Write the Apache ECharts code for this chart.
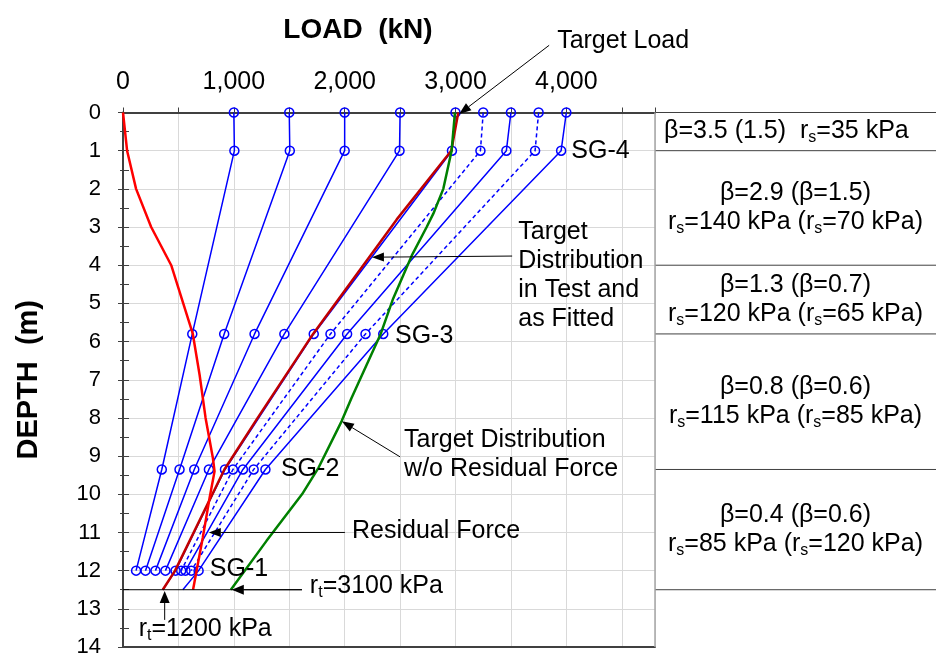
<!DOCTYPE html>
<html><head><meta charset="utf-8">
<script src="https://cdn.jsdelivr.net/npm/echarts@6/dist/echarts.min.js"></script>
<style>html,body{margin:0;padding:0;background:#fff}#c{width:936px;height:658px}</style>
</head><body><div id="c"></div>
<script>
// ---------------- DATA ----------------
const xTickLabels = [0, 1000, 2000, 3000, 4000];
const yTickLabels = [0,1,2,3,4,5,6,7,8,9,10,11,12,13,14];
const sgDepths = [0, 1, 5.8, 9.35, 12, 12.5];           // load-cell head, SG-4, SG-3, SG-2, SG-1, toe
const sgLoad1 = [1000, 1005, 625, 350, 118];
const sgLoad2 = [1500, 1505, 913, 510, 203];
const sgLoad3 = [2000, 2000, 1187, 643, 293];
const sgLoad4 = [2500, 2495, 1456, 775, 383];
const sgLoad5 = [3000, 2968, 1721, 920, 474, 359];
const sgLoad6 = [3250, 3225, 1872, 992, 525];          // dashed
const sgLoad7 = [3500, 3459, 2022, 1082, 564];
const sgLoad8 = [3750, 3718, 2188, 1179, 616];         // dashed
const sgLoad9 = [4000, 3953, 2348, 1285, 682, 540];
const fittedDepth = [0, 1, 2.8, 5.8, 8, 9.35, 12, 12.5];
const fittedLoad  = [3025, 2962, 2470, 1715, 1215, 915, 470, 359];
const residualDepth = [0, 1, 2, 3, 4, 5.8, 6.87, 8, 9.05, 9.4, 10.1, 11.13, 12.5];
const residualLoad  = [0, 37, 118, 254, 435, 630, 691, 745, 811, 826, 781, 720, 632];
const noResDepth = [0, 1, 2, 2.65, 3, 3.75, 4.87, 5.8, 7.48, 8.09, 9.3, 10.0, 11.22, 12.5];
const noResLoad  = [2995, 2965, 2890, 2800, 2740, 2605, 2438, 2325, 2062, 1972, 1765, 1615, 1295, 973];
const layerBounds = [0, 1, 4, 5.8, 9.35, 12.5];
const layerTexts = [
  'β=3.5 (1.5)  r{s|s}=35 kPa',
  'β=2.9 (β=1.5)\nr{s|s}=140 kPa (r{s|s}=70 kPa)',
  'β=1.3 (β=0.7)\nr{s|s}=120 kPa (r{s|s}=65 kPa)',
  'β=0.8 (β=0.6)\nr{s|s}=115 kPa (r{s|s}=85 kPa)',
  'β=0.4 (β=0.6)\nr{s|s}=85 kPa (r{s|s}=120 kPa)'
];
// --------------------------------------
const FONT = '"Liberation Sans", Arial, Helvetica, sans-serif';
const BLUE = '#0000ff';
const chart = echarts.init(document.getElementById('c'), null, {renderer: 'canvas'});

function sgSeries(arr, dashed) {
  return {
    type: 'line', xAxisIndex: 0, yAxisIndex: 0, z: 3,
    data: arr.map((v, i) => i < 5 ? {value: [v, sgDepths[i]]} : {value: [v, sgDepths[i]], symbol: 'none'}),
    symbol: 'circle', symbolSize: 9, showSymbol: true,
    itemStyle: {color: 'rgba(0,0,0,0)', borderColor: BLUE, borderWidth: 1.5},
    lineStyle: {color: BLUE, width: 1.5, type: dashed ? [4, 3] : 'solid'},
    emphasis: {disabled: true}, animation: false, silent: true
  };
}
function curve(xs, ds, color, w, z) {
  return {
    type: 'line', z: z, data: xs.map((v, i) => [v, ds[i]]), symbol: 'none',
    lineStyle: {color: color, width: w}, emphasis: {disabled: true}, animation: false, silent: true
  };
}

const option = {
  animation: false,
  grid: {left: 123, right: 281, top: 112.5, bottom: 8, containLabel: false},
  xAxis: [{
    type: 'value', position: 'top', min: 0, max: 4800, interval: 500,
    axisLine: {show: true, onZero: false, lineStyle: {color: '#404040', width: 2}},
    axisTick: {show: true, length: 5, lineStyle: {color: '#404040', width: 1}},
    axisLabel: {fontSize: 25, fontFamily: FONT, color: '#000', margin: 18,
      formatter: v => (xTickLabels.indexOf(v) >= 0 ? v.toLocaleString('en-US') : '')},
    splitLine: {show: true, lineStyle: {color: '#d9d9d9', width: 1}}
  }, {
    type: 'value', position: 'bottom', min: 0, max: 4800,
    axisLine: {show: true, onZero: false, lineStyle: {color: '#404040', width: 2}},
    axisTick: {show: false}, axisLabel: {show: false}, splitLine: {show: false}
  }],
  yAxis: [{
    type: 'value', inverse: true, min: 0, max: 14, interval: 1,
    name: 'DEPTH  (m)', nameLocation: 'middle', nameGap: 80, nameRotate: 90,
    nameTextStyle: {fontSize: 29, fontWeight: 'bold', fontFamily: FONT, color: '#000'},
    axisLine: {show: true, onZero: false, lineStyle: {color: '#404040', width: 2}},
    axisTick: {show: true, inside: true, length: 6, lineStyle: {color: '#404040'}},
    minorTick: {show: true, splitNumber: 2, length: 6, lineStyle: {color: '#404040'}},
    axisLabel: {fontSize: 22, fontFamily: FONT, color: '#000', margin: 22,
      formatter: v => (yTickLabels.indexOf(v) >= 0 ? String(v) : '')},
    splitLine: {show: true, lineStyle: {color: '#d9d9d9', width: 1}}
  }, {
    type: 'value', inverse: true, min: 0, max: 14, interval: 1, position: 'left',
    axisLine: {show: false}, axisTick: {show: true, inside: false, length: 5, lineStyle: {color: '#404040'}},
    minorTick: {show: true, splitNumber: 2, length: 3, lineStyle: {color: '#404040'}},
    axisLabel: {show: false}, splitLine: {show: false}
  }],
  series: [
    sgSeries(sgLoad1), sgSeries(sgLoad2), sgSeries(sgLoad3), sgSeries(sgLoad4), sgSeries(sgLoad5),
    sgSeries(sgLoad6, true), sgSeries(sgLoad7), sgSeries(sgLoad8, true), sgSeries(sgLoad9),
    curve(fittedLoad, fittedDepth, '#c00000', 2.5, 4),
    curve(residualLoad, residualDepth, '#ff0000', 2.5, 5),
    curve(noResLoad, noResDepth, '#008000', 2.5, 5)
  ]
};
chart.setOption(option);

// ------- annotations (positioned in data coordinates) -------
const P = (x, d) => chart.convertToPixel({gridIndex: 0}, [x, d]);
const RICH = {s: {fontSize: 16, fontFamily: FONT, verticalAlign: 'bottom', lineHeight: 16, fill: '#000'}};
const TXT = (x, d, text, extra) => {
  const p = P(x, d);
  return Object.assign({type: 'text', x: p[0], y: p[1], z: 100, silent: true,
    style: Object.assign({text: text, fontSize: 25, fontFamily: FONT, fill: '#000',
      align: 'left', verticalAlign: 'middle', lineHeight: 29, rich: RICH}, extra || {})});
};
function arrow(tail, tip, hl, hw) {
  const a = P(tail[0], tail[1]), b = P(tip[0], tip[1]);
  const dx = b[0] - a[0], dy = b[1] - a[1], L = Math.hypot(dx, dy);
  const ux = dx / L, uy = dy / L, bx = b[0] - ux * hl, by = b[1] - uy * hl, nx = -uy, ny = ux;
  return [
    {type: 'line', z: 100, silent: true, shape: {x1: a[0], y1: a[1], x2: bx, y2: by}, style: {stroke: '#000', lineWidth: 1}},
    {type: 'polygon', z: 100, silent: true, shape: {points: [[b[0], b[1]], [bx + nx * hw / 2, by + ny * hw / 2], [bx - nx * hw / 2, by - ny * hw / 2]]}, style: {fill: '#000'}}
  ];
}
const g = [];
// title
g.push(TXT(2120, -2.15, 'LOAD  (kN)', {fontSize: 28, fontWeight: 'bold', align: 'center'}));
g.push(TXT(3917, -1.86, 'Target Load'));
g.push(...arrow([3845, -1.76], [3033, 0.04], 12, 9));
g.push(TXT(4045, 1.0, 'SG-4'));
g.push(TXT(3566, 4.27, 'Target\nDistribution\nin Test and\nas Fitted'));
g.push(...arrow([3511, 3.76], [2246, 3.79], 12, 9));
g.push(TXT(2454, 5.85, 'SG-3'));
g.push(TXT(2536, 8.97, 'Target Distribution\nw/o Residual Force'));
g.push(...arrow([2500, 9.02], [1975, 8.09], 12, 9));
g.push(TXT(1425, 9.34, 'SG-2'));
g.push(TXT(2066, 10.96, 'Residual Force'));
g.push(...arrow([2002, 11.0], [774, 11.0], 12, 9));
g.push(TXT(783, 11.97, 'SG-1'));
g.push(TXT(1686, 12.41, 'r{s|t}=3100 kPa'));
// toe line
(function () {
  const a = P(0, 12.5), b = P(1615, 12.5);
  g.push({type: 'line', z: 100, silent: true, shape: {x1: a[0], y1: a[1], x2: b[0], y2: b[1]}, style: {stroke: '#000', lineWidth: 1}});
})();
g.push(...arrow([1615, 12.5], [982, 12.5], 12, 10));
g.push(TXT(142, 13.53, 'r{s|t}=1200 kPa'));
g.push(...arrow([376, 13.29], [376, 12.53], 12, 10));

// right-hand layer table
const xR = P(4800, 0)[0];
const W = chart.getWidth();
layerBounds.forEach(d => {
  const y = P(0, d)[1];
  g.push({type: 'line', z: 100, silent: true, shape: {x1: xR, y1: y, x2: W, y2: y}, style: {stroke: '#404040', lineWidth: 1}});
});
g.push({type: 'line', z: 100, silent: true, shape: {x1: xR, y1: P(0, 0)[1], x2: xR, y2: P(0, 14)[1]}, style: {stroke: '#a6a6a6', lineWidth: 1.5}});
layerTexts.forEach((t, i) => {
  const yc = (P(0, layerBounds[i])[1] + P(0, layerBounds[i + 1])[1]) / 2;
  const cfg = {type: 'text', z: 100, silent: true, y: yc,
    style: {text: t, fontSize: 25, fontFamily: FONT, fill: '#000', verticalAlign: 'middle', lineHeight: 29, rich: RICH}};
  if (i === 0) { cfg.x = xR + 9; cfg.style.align = 'left'; }
  else { cfg.x = (xR + W) / 2; cfg.style.align = 'center'; }
  g.push(cfg);
});
chart.setOption({graphic: g});
</script></body></html>
